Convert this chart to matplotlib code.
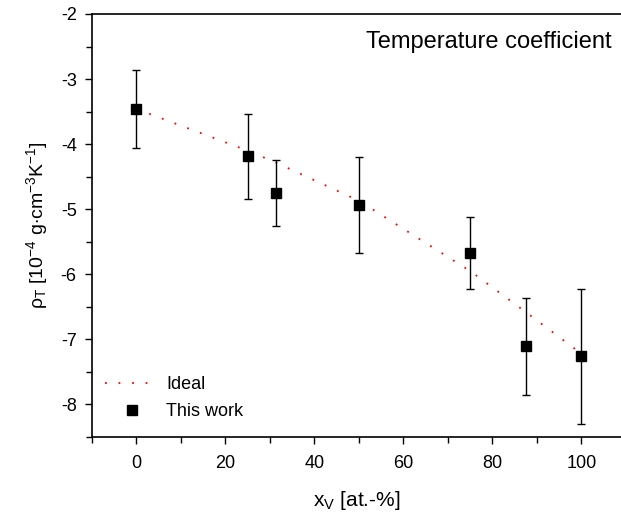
import matplotlib
matplotlib.use("Agg")
import matplotlib.pyplot as plt
from matplotlib.ticker import MultipleLocator
from matplotlib.lines import Line2D

plt.rcParams['font.family'] = ['Liberation Sans', 'DejaVu Sans']
plt.rcParams['mathtext.fontset'] = 'custom'
plt.rcParams['mathtext.rm'] = 'Liberation Sans'
plt.rcParams['mathtext.it'] = 'Liberation Sans'

# measured values
x_v = [0, 25, 31.25, 50, 75, 87.5, 100]
rho_t = [-3.46, -4.18, -4.75, -4.94, -5.67, -7.10, -7.26]
err_up = [-2.86, -3.53, -4.25, -4.20, -5.12, -6.36, -6.22]
err_lo = [-4.06, -4.84, -5.25, -5.67, -6.23, -7.86, -8.30]

# ideal mixing curve
x_ideal = [0, 25, 31.25, 50, 75, 87.5, 100]
rho_ideal = [-3.46, -4.10, -4.28, -4.87, -5.95, -6.58, -7.22]

yerr = [[r - lo for r, lo in zip(rho_t, err_lo)],
        [up - r for r, up in zip(rho_t, err_up)]]

fig = plt.figure(figsize=(6.21, 5.17), dpi=100)
ax = fig.add_axes([92/621, 1 - 437/517, 1 - 92/621, (437 - 14)/517])

ideal_style = dict(color="red", lw=1.3, linestyle=(0, (1, 6.5)))
ax.plot(x_ideal, rho_ideal, zorder=1, **ideal_style)
ax.errorbar(x_v, rho_t, yerr=yerr, fmt="s", color="black", ms=6.5, ecolor="black",
            elinewidth=1.0, capsize=3, capthick=1.0, zorder=3)

ax.set_xlim(-10, 108.9)
ax.set_ylim(-8.5, -2)
ax.xaxis.set_major_locator(MultipleLocator(20))
ax.xaxis.set_minor_locator(MultipleLocator(10))
ax.yaxis.set_major_locator(MultipleLocator(1))
ax.yaxis.set_minor_locator(MultipleLocator(0.5))
ax.tick_params(which="both", direction="out", labelsize=13, width=1.0)
ax.tick_params(which="major", length=5)
ax.tick_params(which="minor", length=4)
ax.tick_params(axis="y", pad=6)
ax.tick_params(axis="x", pad=8)
ax.yaxis.set_major_formatter(matplotlib.ticker.FuncFormatter(lambda v, p: "%d" % v))

ax.spines["right"].set_visible(False)
for s in ["left", "bottom", "top"]:
    ax.spines[s].set_linewidth(1.2)

ax.set_xlabel(r"x$_\mathregular{V}$ [at.-%]", fontsize=15, labelpad=12)
ax.set_ylabel(r"$\mathregular{\rho_T}$ [10$^\mathregular{-4}$ g$\cdot$cm$^\mathregular{-3}$K$^\mathregular{-1}$]",
              fontsize=14, labelpad=8)

ax.text(0.983, 0.934, "Temperature coefficient", transform=ax.transAxes,
        ha="right", va="center", fontsize=17)

handles = [Line2D([], [], **ideal_style),
           Line2D([], [], color="black", marker="s", ms=6.5, linestyle="none")]
ax.legend(handles, ["Ideal", "This work"], loc="lower left", frameon=False, fontsize=13,
          handlelength=3.0, borderaxespad=0.3, handletextpad=0.4, labelspacing=0.55,
          bbox_to_anchor=(0.0, 0.01))

fig.savefig("out.png", dpi=100)
